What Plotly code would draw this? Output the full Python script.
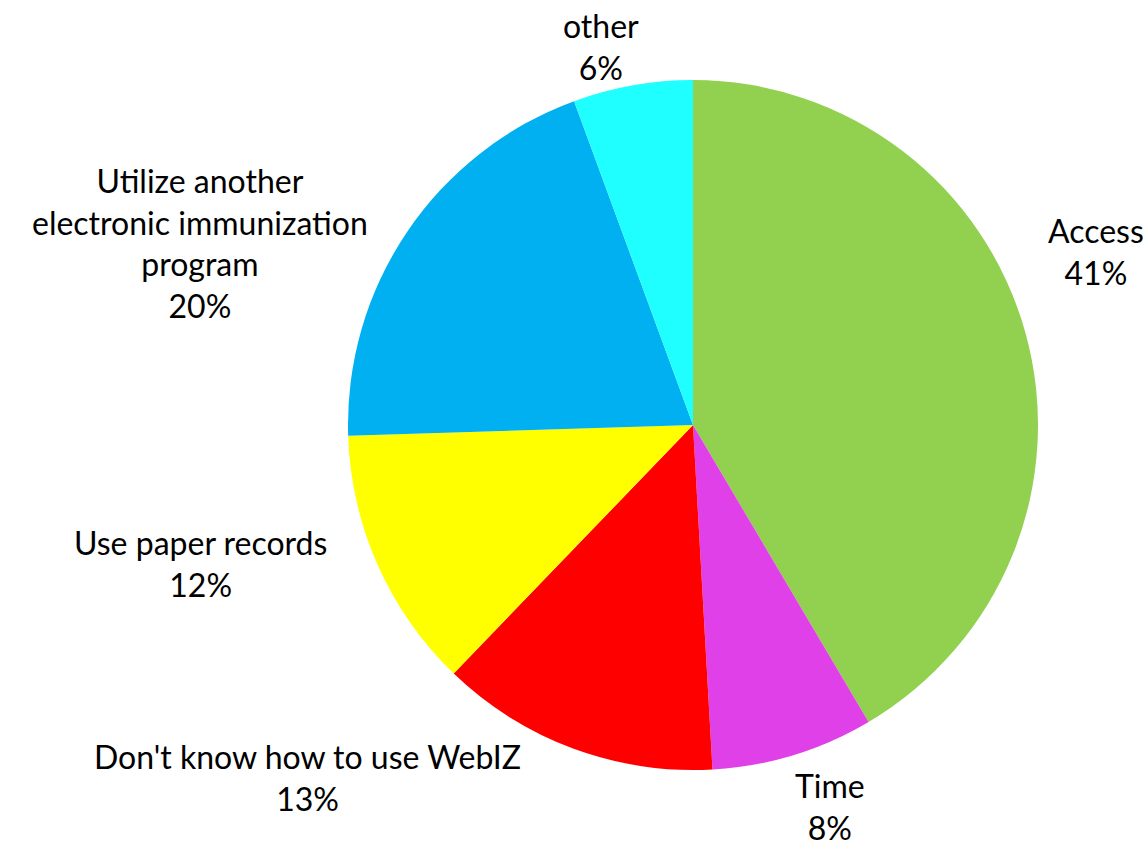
import plotly.graph_objects as go

categories = ["Access", "Time", "Don't know how to use WebIZ", "Use paper records",
              "Utilize another electronic immunization program", "other"]
values = [41.5, 7.6, 13.1, 12.3, 19.9, 5.6]
pct_labels = ["41%", "8%", "13%", "12%", "20%", "6%"]
label_lines = ["Access", "Time", "Don't know how to use WebIZ", "Use paper records",
               "Utilize another<br>electronic immunization<br>program", "other"]
colors = ["#92D050", "#E040E8", "#FF0000", "#FFFF00", "#00B0F0", "#1FFFFF"]

W, H = 1143, 847
cx, cy, r = 693, 425, 345

fig = go.Figure(go.Pie(
    labels=categories,
    values=values,
    sort=False,
    direction="clockwise",
    rotation=0,
    marker=dict(colors=colors, line=dict(width=0)),
    textinfo="none",
    hoverinfo="label+percent",
    showlegend=False,
    domain=dict(x=[(cx - r) / W, (cx + r) / W],
                y=[(H - cy - r) / H, (H - cy + r) / H]),
))

# label block centres (pixels)
label_pos = [(1096, 251), (830, 806), (307, 777), (200, 563), (200, 243), (601, 47)]
font = dict(family="Gill Sans, Lato, sans-serif", size=32, color="#000000")
for txt, pct, (px, py) in zip(label_lines, pct_labels, label_pos):
    fig.add_annotation(
        x=px / W, y=1 - py / H, xref="paper", yref="paper",
        text=f"{txt}<br>{pct}", showarrow=False,
        xanchor="center", yanchor="middle", align="center", font=font,
    )

fig.update_layout(
    width=W, height=H,
    margin=dict(l=0, r=0, t=0, b=0),
    paper_bgcolor="white", plot_bgcolor="white",
)
fig.write_html("out.html")
